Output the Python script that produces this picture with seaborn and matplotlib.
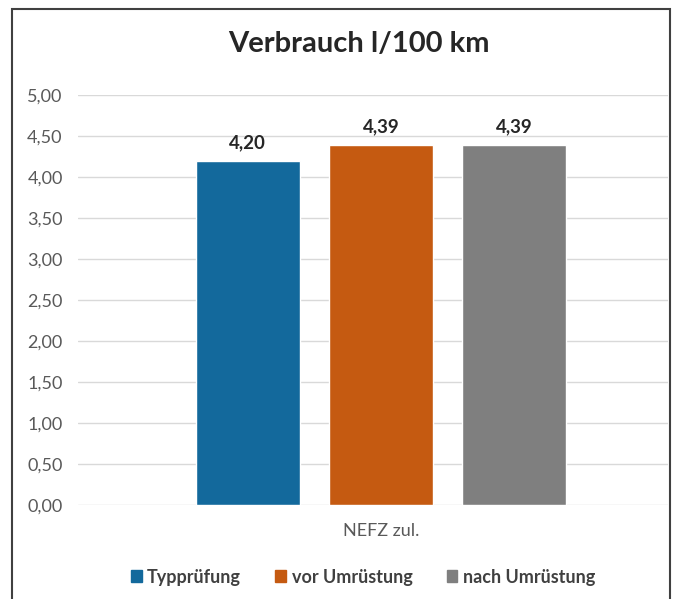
import pandas as pd
import seaborn as sns
import matplotlib.pyplot as plt
from matplotlib.patches import Rectangle

# Werte aus der Grafik
kategorie = ["NEFZ zul."]
serien = ["Typprüfung", "vor Umrüstung", "nach Umrüstung"]
werte = [4.20, 4.39, 4.39]
farben = ["#13699c", "#c55a11", "#7f7f7f"]
yticks = [0, 0.5, 1.0, 1.5, 2.0, 2.5, 3.0, 3.5, 4.0, 4.5, 5.0]

df = pd.DataFrame({"Test": kategorie * len(serien), "Serie": serien, "Wert": werte})

sns.set_theme(style="white")
plt.rcParams["font.family"] = ["Lato", "DejaVu Sans"]

fig = plt.figure(figsize=(6.76, 5.99), dpi=100)
ax = fig.add_axes([78 / 676, 94 / 599, 590 / 676, 410 / 599])

sns.barplot(data=df, x="Test", y="Wert", hue="Serie", palette=farben,
            width=0.8, gap=0.22, ax=ax, legend=False, saturation=1)

# Beschriftung über den Balken
for c in ax.containers:
    ax.bar_label(c, labels=[f"{v:.2f}".replace(".", ",") for v in c.datavalues],
                 padding=7, fontsize=13.5, fontweight="bold", color="#262626")

ax.set_ylim(0, 5)
ax.set_xlim(-0.607, 0.575)
ax.set_yticks(yticks)
ax.set_yticklabels([f"{v:.2f}".replace(".", ",") for v in yticks])
ax.yaxis.grid(True, color="#d9d9d9", linewidth=1)
ax.set_axisbelow(True)
for s in ax.spines.values():
    s.set_visible(False)
ax.tick_params(axis="both", length=0, labelsize=13, labelcolor="#595959")
ax.tick_params(axis="y", pad=11)
ax.tick_params(axis="x", pad=13)
ax.set_xlabel("")
ax.set_ylabel("")

fig.text(359 / 676, 1 - 44 / 599, "Verbrauch l/100 km", ha="center", va="center",
         fontsize=21, fontweight="bold", color="#262626")

# Legende unten
handles = [Rectangle((0, 0), 1, 1, color=f) for f in farben]
fig.legend(handles, serien, loc="center", bbox_to_anchor=(363 / 676, 1 - 577 / 599),
           ncol=3, frameon=False, handlelength=0.6, handleheight=0.6,
           handletextpad=0.3, columnspacing=1.9,
           prop={"size": 13, "weight": "bold"}, labelcolor="#404040")

# Rahmen um das Diagramm
fig.patches.append(Rectangle((12 / 676, -0.01), 658 / 676, 1 - 9 / 599 + 0.01,
                             transform=fig.transFigure, fill=False,
                             edgecolor="#404040", linewidth=1.5))

fig.savefig("out.png", dpi=100)
